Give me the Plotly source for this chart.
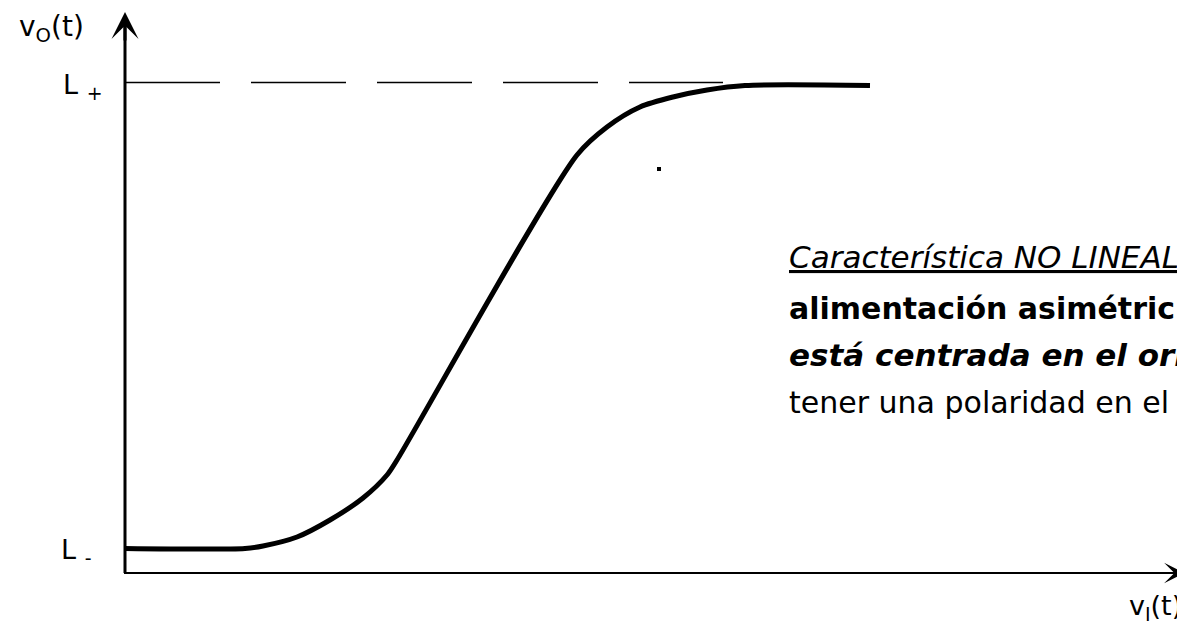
import plotly.graph_objects as go

# Transfer characteristic (vI -> vO)
vi = [0.0, 1.20, 1.38, 1.72, 2.05, 2.38, 2.62, 2.72, 4.52, 4.82, 5.15, 5.48, 5.82, 6.20, 7.45]
vo = [0.245, 0.245, 0.27, 0.36, 0.53, 0.75, 0.98, 1.13, 4.18, 4.46, 4.66, 4.76, 4.83, 4.875, 4.875]

L_plus = 4.905
L_minus = 0.245
dash_end = 5.98
dot_x, dot_y = [5.34], [4.04]

x_axis_end = 10.595
y_axis_end = 5.61

text_lines = [
    "<i><u>Característica NO LINEAL</u></i>",
    "<b>alimentación asimétric</b>",
    "<b><i>está centrada en el ori</i></b>",
    "tener una polaridad en el",
]
text_sizes = [31, 30, 31, 30]
text_y = [3.16, 2.65, 2.18, 1.71]
text_x = 6.62

FONT = "DejaVu Sans"

fig = go.Figure()

# dashed L+ reference
fig.add_trace(go.Scatter(x=[0, dash_end], y=[L_plus, L_plus], mode="lines",
                         line=dict(color="black", width=1.3, dash="95px,31px"),
                         hoverinfo="skip", showlegend=False))
# characteristic curve
fig.add_trace(go.Scatter(x=vi, y=vo, mode="lines",
                         line=dict(color="black", width=5, shape="spline", smoothing=0.8),
                         showlegend=False))
# small dot
fig.add_trace(go.Scatter(x=dot_x, y=dot_y, mode="markers",
                         marker=dict(symbol="square", size=4, color="black"),
                         showlegend=False))

shapes = [
    dict(type="line", x0=0, y0=0, x1=0, y1=y_axis_end - 0.1, xref="x", yref="y",
         line=dict(color="black", width=3)),
    dict(type="line", x0=-0.01, y0=0, x1=x_axis_end - 0.1, y1=0, xref="x", yref="y",
         line=dict(color="black", width=2)),
]

annotations = [
    dict(x=0, y=y_axis_end, ax=0, ay=30, xref="x", yref="y", text="",
         showarrow=True, arrowhead=3, arrowwidth=3, arrowsize=1.5, arrowcolor="black"),
    dict(x=x_axis_end, y=0, ax=-30, ay=0, xref="x", yref="y", text="",
         showarrow=True, arrowhead=3, arrowwidth=2, arrowsize=1.7, arrowcolor="black"),
    dict(x=-0.74, y=5.45, text="v<sub>O</sub>(t)", showarrow=False,
         font=dict(family=FONT, size=28, color="black")),
    dict(x=-0.21, y=4.87, text="L <sub>+</sub>", showarrow=False, xanchor="right",
         font=dict(family=FONT, size=27, color="black")),
    dict(x=-0.32, y=0.22, text="L <sub>-</sub>", showarrow=False, xanchor="right",
         font=dict(family=FONT, size=27, color="black")),
    dict(x=10.59, y=-0.34, text="v<sub>I</sub>(t)", showarrow=False, xanchor="right",
         font=dict(family=FONT, size=27, color="black")),
]
for t, yy, fs in zip(text_lines, text_y, text_sizes):
    annotations.append(dict(x=text_x, y=yy, text=t, showarrow=False, xanchor="left",
                            yanchor="middle", font=dict(family=FONT, size=fs, color="black")))

# page has an 8px body margin: figure spans page px 8..1185 / 8..624
fig.update_layout(
    width=1177, height=616,
    margin=dict(l=0, r=0, t=0, b=0),
    paper_bgcolor="white", plot_bgcolor="white",
    xaxis=dict(range=[-1.17, 10.6], visible=False, fixedrange=True),
    yaxis=dict(range=[-0.51, 5.65], visible=False, fixedrange=True),
    shapes=shapes, annotations=annotations,
)

fig.write_html("out.html")
